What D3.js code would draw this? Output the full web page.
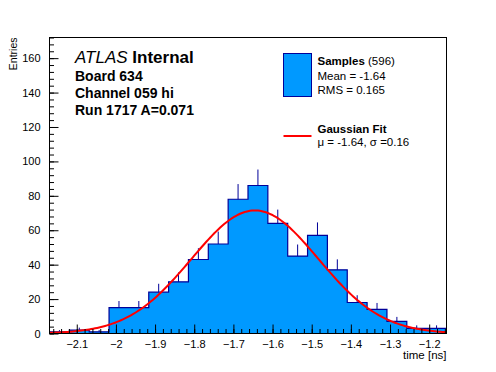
<!DOCTYPE html>
<html>
<head>
<meta charset="utf-8">
<script src="https://cdn.jsdelivr.net/npm/d3@7"></script>
<style>
  body { margin: 0; background: #fff; }
  svg { display: block; font-family: 'Liberation Sans', Arial, sans-serif; }
</style>
</head>
<body>
<div id="chart"></div>
<script>
// histogram contents, 20 bins between xMin and xMax
var binCounts = [1, 2, 1, 15, 15, 24, 30, 43, 52, 78, 86, 64, 45, 57, 37, 18, 14, 7, 3, 3]
var xMin = -2.1696
var xMax = -1.1558
var yMax = 172

var xTicks = [-2.1, -2, -1.9, -1.8, -1.7, -1.6, -1.5, -1.4, -1.3, -1.2]
var yTicks = [0, 20, 40, 60, 80, 100, 120, 140, 160]

// gaussian fit parameters
var fitMu = -1.645
var fitSigma = 0.162
var fitAmp = 71.5

var headerLines = ['Board 634', 'Channel 059 hi', 'Run 1717 A=0.071']

var fillColor = '#0099ff'
var lineColor = '#000099'

var width = 496
var height = 372
var frameL = 49.5
var frameR = 446.5
var frameT = 37.5
var frameB = 333.5

var svg = d3.select('#chart')
  .append('svg')
  .attr('width', width)
  .attr('height', height)

var x = d3.scaleLinear().domain([xMin, xMax]).range([frameL, frameR])
var y = d3.scaleLinear().domain([0, yMax]).range([frameB, frameT])

var binWidth = (xMax - xMin) / binCounts.length
var bins = binCounts.map(function (c, i) {
  return { x0: xMin + i * binWidth, x1: xMin + (i + 1) * binWidth, n: c }
})

// staircase points for fill and outline
var stepPts = []
bins.forEach(function (d) {
  stepPts.push([d.x0, d.n])
  stepPts.push([d.x1, d.n])
})

svg.append('path')
  .datum(stepPts)
  .attr('fill', fillColor)
  .attr('d', d3.area()
    .x(function (d) { return x(d[0]) })
    .y0(y(0))
    .y1(function (d) { return y(d[1]) }))

// error bars (upper half only shows)
svg.append('g')
  .selectAll('line')
  .data(bins.filter(function (d) { return d.n > 0 }))
  .enter()
  .append('line')
  .attr('x1', function (d) { return x((d.x0 + d.x1) / 2) })
  .attr('x2', function (d) { return x((d.x0 + d.x1) / 2) })
  .attr('y1', function (d) { return y(d.n) })
  .attr('y2', function (d) { return y(d.n + Math.sqrt(d.n)) })
  .attr('stroke', lineColor)
  .attr('stroke-width', 1)

svg.append('path')
  .datum(stepPts)
  .attr('fill', 'none')
  .attr('stroke', lineColor)
  .attr('stroke-width', 1.2)
  .attr('d', d3.line()
    .x(function (d) { return x(d[0]) })
    .y(function (d) { return y(d[1]) }))

// fit curve
var fitPts = d3.range(0, 201).map(function (i) {
  var xv = xMin + (xMax - xMin) * i / 200
  var z = (xv - fitMu) / fitSigma
  return [xv, fitAmp * Math.exp(-0.5 * z * z)]
})
svg.append('path')
  .datum(fitPts)
  .attr('fill', 'none')
  .attr('stroke', '#ff0000')
  .attr('stroke-width', 2)
  .attr('d', d3.line()
    .x(function (d) { return x(d[0]) })
    .y(function (d) { return y(d[1]) }))

// frame
svg.append('rect')
  .attr('x', frameL)
  .attr('y', frameT)
  .attr('width', frameR - frameL)
  .attr('height', frameB - frameT)
  .attr('fill', 'none')
  .attr('stroke', '#000')
  .attr('stroke-width', 1)

// axes, ticks pointing into the frame
var fmt = d3.format('.1~f')
svg.append('g')
  .attr('transform', 'translate(0,' + frameB + ')')
  .call(d3.axisBottom(x).tickValues(xTicks).tickFormat(fmt).tickSizeInner(-9).tickSizeOuter(0).tickPadding(7))
svg.append('g')
  .attr('transform', 'translate(0,' + frameB + ')')
  .call(d3.axisBottom(x).tickValues(d3.range(-2.16, -1.155, 0.02)).tickFormat('').tickSizeInner(-4.5).tickSizeOuter(0))

svg.append('g')
  .attr('transform', 'translate(' + frameL + ',0)')
  .call(d3.axisLeft(y).tickValues(yTicks).tickFormat(fmt).tickSizeInner(-9).tickSizeOuter(0).tickPadding(9))
svg.append('g')
  .attr('transform', 'translate(' + frameL + ',0)')
  .call(d3.axisLeft(y).tickValues(d3.range(0, 172.1, 4)).tickFormat('').tickSizeInner(-4.5).tickSizeOuter(0))

svg.selectAll('.domain').remove()
svg.selectAll('.tick line').attr('stroke', '#000')
svg.selectAll('.tick text')
  .attr('font-family', "'Liberation Sans', Arial, sans-serif")
  .attr('font-size', 11)
  .attr('fill', '#000')

// axis titles
svg.append('text')
  .attr('x', frameR)
  .attr('y', 359)
  .attr('text-anchor', 'end')
  .attr('font-size', 11.5)
  .text('time [ns]')

svg.append('text')
  .attr('transform', 'translate(16.5,' + frameT + ') rotate(-90)')
  .attr('text-anchor', 'end')
  .attr('font-size', 10.5)
  .text('Entries')

// header text
var atlas = svg.append('text')
  .attr('x', 75)
  .attr('y', 63)
  .attr('font-size', 17)
atlas.append('tspan').attr('font-style', 'italic').text('ATLAS')
atlas.append('tspan').attr('font-weight', 'bold').text(' Internal')

svg.selectAll('.hdr')
  .data(headerLines)
  .enter()
  .append('text')
  .attr('class', 'hdr')
  .attr('x', 75)
  .attr('y', function (d, i) { return 81 + i * 17 })
  .attr('font-size', 14)
  .attr('font-weight', 'bold')
  .text(function (d) { return d })

// legend
svg.append('rect')
  .attr('x', 283.5)
  .attr('y', 53.5)
  .attr('width', 28)
  .attr('height', 43)
  .attr('fill', fillColor)
  .attr('stroke', lineColor)
  .attr('stroke-width', 1)

var s = svg.append('text').attr('x', 317.5).attr('y', 65).attr('font-size', 11.5)
s.append('tspan').attr('font-weight', 'bold').text('Samples')
s.append('tspan').text(' (596)')
svg.append('text').attr('x', 317.5).attr('y', 79.5).attr('font-size', 11.5).text('Mean = -1.64')
svg.append('text').attr('x', 317.5).attr('y', 93.5).attr('font-size', 11.5).text('RMS = 0.165')

svg.append('line')
  .attr('x1', 283.5).attr('x2', 311.5)
  .attr('y1', 136).attr('y2', 136)
  .attr('stroke', '#ff0000')
  .attr('stroke-width', 2)
svg.append('text').attr('x', 317.5).attr('y', 132.5).attr('font-size', 11.5).attr('font-weight', 'bold').text('Gaussian Fit')
svg.append('text').attr('x', 317.5).attr('y', 145.5).attr('font-size', 11.5).text('\u03bc = -1.64, \u03c3 =0.16')
</script>
</body>
</html>
